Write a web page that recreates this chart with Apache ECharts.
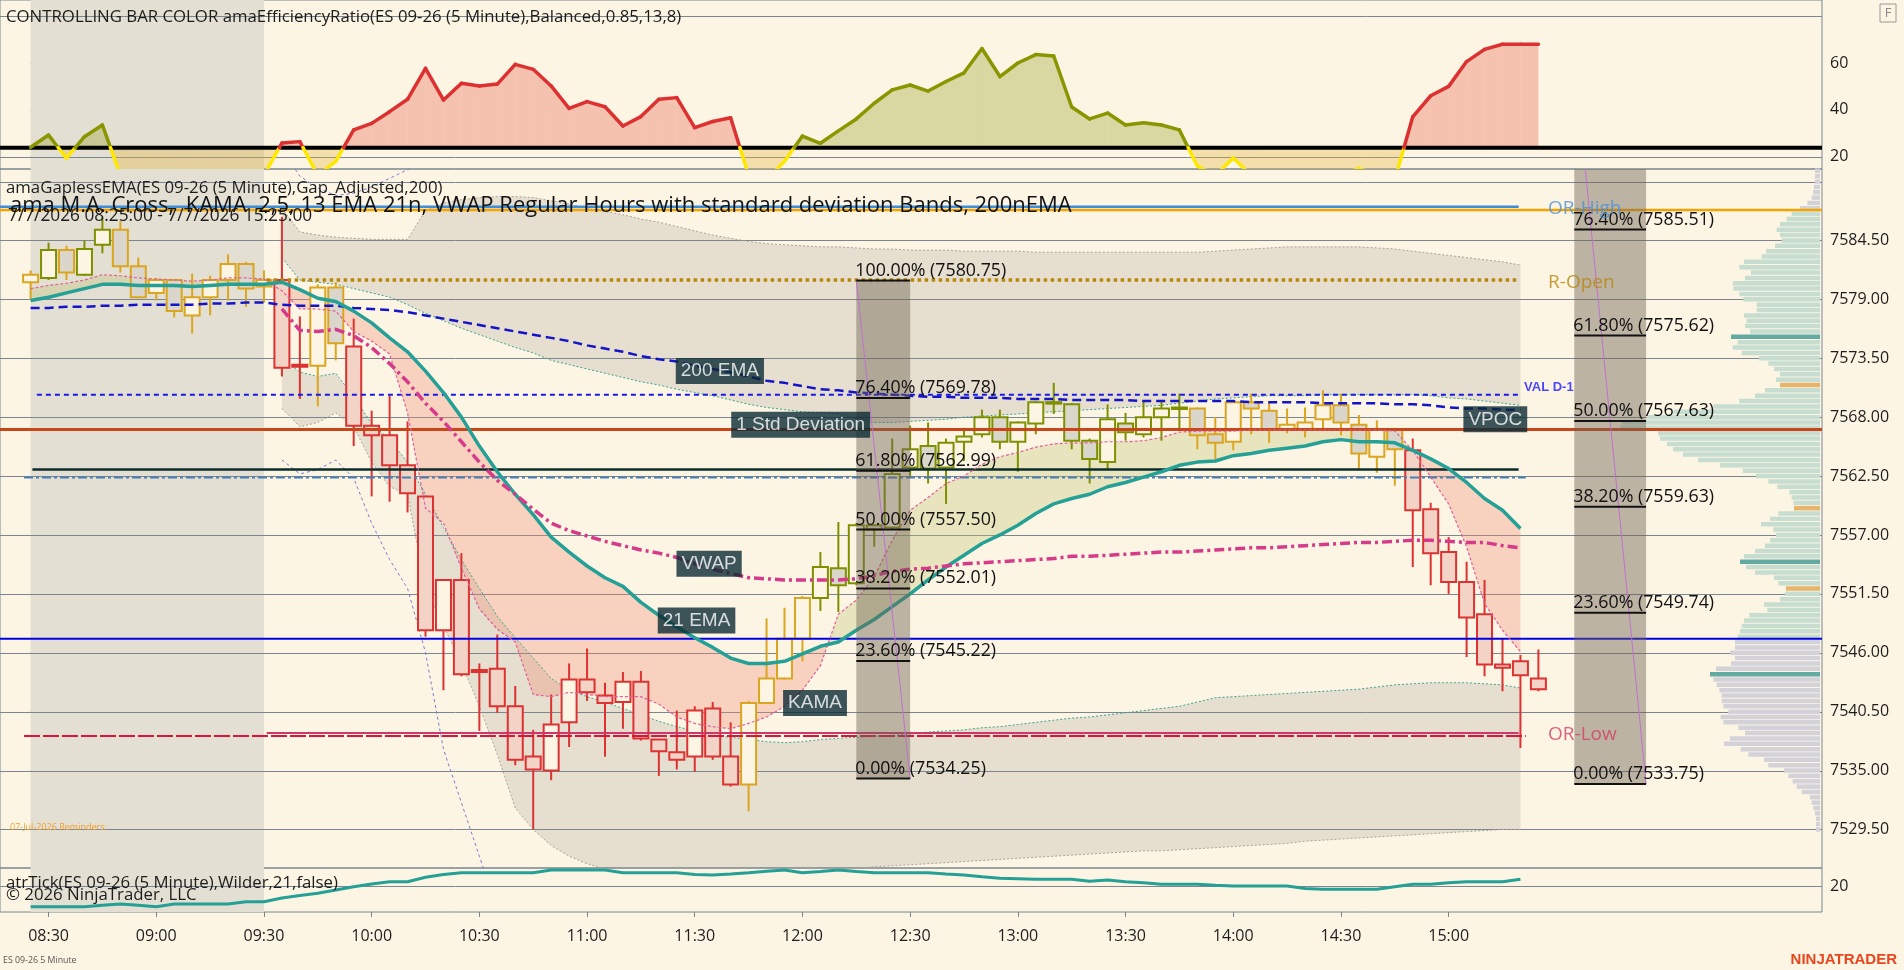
<!DOCTYPE html>
<html><head><meta charset="utf-8">
<script src="https://cdn.jsdelivr.net/npm/echarts@6/dist/echarts.min.js"></script>
<style>html,body{margin:0;padding:0;background:#fdf5e4;overflow:hidden}#chart{width:1904px;height:970px}</style>
</head><body><div id="chart"></div>
<script>
// ---------------- DATA ----------------
const firstBarTime = '08:25';
const timeLabels = ['08:30','09:00','09:30','10:00','10:30','11:00','11:30','12:00','12:30','13:00','13:30','14:00','14:30','15:00'];
const sessionBars = [0, 13];

const barOpen = [7580.6,7581.0,7583.6,7581.3,7584.1,7585.5,7582.1,7579.6,7580.8,7577.5,
7579.2,7580.8,7582.3,7580.2,7580.8,7572.9,7572.8,7580.1,7574.6,7567.2,
7566.3,7563.5,7560.6,7548.1,7552.8,7544.4,7544.5,7541.0,7536.3,7535.0,
7539.5,7543.5,7542.0,7541.4,7543.3,7537.9,7536.7,7536.3,7540.8,7536.3,
7533.7,7541.3,7543.6,7547.3,7551.1,7553.9,7552.5,7557.9,7557.7,7563.3,
7565.3,7563.3,7565.7,7566.4,7568.0,7565.7,7567.4,7569.4,7569.2,7565.8,
7563.8,7567.4,7566.4,7568.0,7568.8,7568.8,7566.4,7565.7,7569.4,7568.6,
7566.9,7566.9,7567.8,7569.1,7567.3,7564.3,7566.8,7564.9,7559.4,7555.4,
7552.6,7549.6,7544.9,7545.2,7543.6];
const barHigh = [7581.7,7584.3,7584.0,7584.5,7586.7,7586.3,7582.9,7581.0,7580.9,7581.4,
7581.2,7583.2,7582.5,7581.7,7586.7,7577.4,7580.4,7580.6,7577.2,7568.6,
7570.0,7567.6,7560.6,7552.8,7555.3,7545.0,7547.7,7542.9,7538.8,7542.1,
7545.0,7546.4,7543.2,7544.2,7544.3,7537.9,7540.6,7541.0,7541.4,7539.5,
7541.5,7549.2,7550.2,7551.3,7555.4,7558.2,7558.1,7558.0,7566.0,7567.2,
7567.5,7566.0,7567.0,7568.7,7568.7,7567.6,7569.5,7571.2,7569.3,7566.0,
7569.2,7568.4,7569.5,7569.6,7570.2,7568.9,7568.0,7569.5,7570.2,7569.4,
7568.8,7568.9,7570.5,7570.2,7568.2,7567.7,7567.0,7566.0,7560.0,7556.8,
7554.5,7552.8,7547.3,7545.8,7546.3];
const barLow = [7579.0,7580.8,7580.8,7581.2,7583.3,7581.5,7579.1,7578.9,7577.3,7575.8,
7577.5,7578.9,7578.3,7578.7,7571.8,7569.7,7569.0,7573.3,7565.3,7560.6,
7560.1,7559.1,7547.5,7542.5,7543.8,7538.7,7540.4,7535.5,7529.5,7534.1,
7537.2,7541.5,7536.3,7538.9,7537.8,7534.5,7535.1,7534.9,7536.0,7533.5,
7531.2,7541.2,7543.5,7545.2,7549.9,7549.8,7552.3,7555.9,7557.5,7562.4,
7561.8,7559.9,7563.9,7566.1,7565.0,7562.9,7566.4,7568.3,7565.0,7561.8,
7563.2,7565.8,7566.1,7565.8,7566.7,7565.0,7564.1,7564.9,7566.4,7565.6,
7566.5,7566.1,7566.8,7566.3,7563.2,7562.8,7561.6,7554.0,7552.3,7551.5,
7545.6,7543.8,7542.4,7537.1,7542.4];
const barClose = [7581.3,7583.6,7581.5,7583.7,7585.5,7582.1,7579.2,7580.8,7577.9,7579.2,
7580.8,7582.3,7580.0,7580.8,7572.6,7572.7,7580.1,7574.9,7567.2,7566.3,
7563.5,7560.9,7548.1,7552.8,7544.0,7544.2,7541.0,7536.0,7535.1,7539.3,
7543.5,7542.3,7541.3,7543.3,7538.0,7536.8,7536.0,7540.6,7536.3,7533.7,
7541.3,7543.6,7547.3,7551.1,7554.0,7552.3,7557.9,7557.5,7562.7,7565.0,
7563.2,7565.6,7566.2,7568.0,7565.7,7567.5,7569.4,7569.3,7565.8,7564.1,
7567.8,7566.6,7568.0,7568.8,7568.9,7566.3,7565.6,7569.4,7568.8,7566.8,
7567.3,7567.5,7569.1,7567.5,7564.6,7566.8,7565.0,7559.3,7555.3,7552.6,
7549.3,7544.9,7544.6,7543.9,7542.6];
// bar colour state per bar: o = olive, g = gold, r = red
const barState = ['gogoo','ggggggggg','rr','gg','rrrrrrrrrrrrrrrrrrrrrr','gggg','ooooooooooooooooooooo','gggggggggggg','rrrrrrrr'].join('');

const ema21 = [7578.9,7579.2,7579.6,7580.0,7580.4,7580.4,7580.3,7580.3,7580.3,7580.2,
7580.3,7580.4,7580.4,7580.4,7580.6,7579.9,7579.1,7578.8,7577.9,7576.8,
7575.4,7574.1,7572.3,7570.3,7568.0,7565.3,7562.9,7560.8,7558.9,7556.8,
7555.4,7554.1,7553.0,7552.2,7550.7,7549.5,7548.4,7547.4,7546.5,7545.5,
7545.0,7545.0,7545.2,7545.9,7546.6,7547.0,7548.1,7549.1,7550.3,7551.5,
7552.8,7554.0,7555.1,7556.2,7557.0,7557.9,7559.0,7559.9,7560.4,7560.8,
7561.5,7561.9,7562.4,7562.9,7563.5,7563.8,7563.9,7564.4,7564.6,7564.9,
7565.1,7565.3,7565.7,7565.9,7565.7,7565.7,7565.6,7564.9,7564.1,7563.2,
7561.9,7560.4,7559.3,7557.6];
const kama = [7580.0,7580.3,7580.5,7580.8,7581.3,7581.2,7581.0,7580.9,7580.8,7580.7,
7580.8,7581.0,7581.0,7580.9,7579.8,7578.1,7578.1,7577.9,7576.0,7575.1,
7573.9,7568.4,7559.5,7558.1,7553.9,7550.1,7548.2,7547.0,7542.1,7541.9,
7542.3,7542.1,7541.9,7541.9,7541.9,7541.2,7540.0,7539.4,7539.1,7538.9,
7539.4,7540.0,7541.0,7542.5,7544.8,7549.6,7550.9,7553.1,7556.5,7559.3,
7560.5,7561.8,7562.5,7563.6,7564.3,7564.7,7565.2,7565.5,7565.6,7565.6,
7565.7,7565.7,7565.8,7566.1,7566.6,7566.7,7566.7,7566.7,7566.8,7566.8,
7566.8,7566.8,7566.8,7566.8,7566.8,7566.8,7566.7,7564.9,7562.4,7559.9,
7555.9,7550.6,7548.1,7546.1];
const ema200 = [7578.2,7578.2,7578.3,7578.3,7578.4,7578.4,7578.5,7578.5,7578.5,7578.5,
7578.6,7578.6,7578.7,7578.7,7578.5,7578.4,7578.4,7578.4,7578.2,7578.1,
7578.0,7577.8,7577.5,7577.2,7576.9,7576.6,7576.3,7576.0,7575.7,7575.4,
7575.1,7574.7,7574.4,7574.1,7573.7,7573.4,7573.2,7572.8,7572.5,7572.2,
7571.8,7571.4,7571.2,7570.9,7570.6,7570.5,7570.3,7570.2,7570.1,7570.0,
7569.9,7569.9,7569.8,7569.8,7569.8,7569.7,7569.7,7569.7,7569.6,7569.6,
7569.6,7569.6,7569.5,7569.5,7569.5,7569.5,7569.5,7569.5,7569.4,7569.4,
7569.4,7569.4,7569.3,7569.3,7569.3,7569.3,7569.2,7569.2,7569.1,7568.9,
7568.8,7568.8,7568.7,7568.7];

// VWAP and bands start at the 09:30 bar
const vwapStartBar = 14;
const vwap = [7578.1,7576.1,7576.0,7576.2,7575.6,7574.5,7573.0,7571.3,7569.3,7567.6,
7565.7,7563.8,7562.1,7560.8,7559.4,7558.1,7557.4,7556.9,7556.4,7556.0,
7555.6,7555.3,7554.9,7554.3,7553.8,7553.4,7553.0,7552.9,7552.8,7552.8,
7552.8,7552.8,7552.9,7553.2,7553.6,7553.8,7553.9,7554.1,7554.3,7554.4,
7554.5,7554.6,7554.7,7554.8,7555.0,7555.0,7555.1,7555.2,7555.3,7555.4,
7555.4,7555.5,7555.6,7555.7,7555.8,7555.8,7555.9,7556.0,7556.1,7556.2,
7556.3,7556.3,7556.4,7556.5,7556.5,7556.4,7556.3,7556.3,7556.0,7555.8];
const vwapAboveRanges = [[15.8, 17.2], [43.5, 77.6]];
const bandUpper3 = [7593.0,7590.5,7589.4,7588.7,7588.9,7589.5,7590.3,7591.1,7592.0];
const bandUpper2 = [7587.5,7585.3,7585.0,7584.8,7584.7,7584.6,7584.6,7584.6,7587.3,7588.0,
7588.3,7588.5,7588.6,7588.6,7588.5,7588.2,7587.9,7587.5,7587.2,7586.9,
7586.5,7586.2,7585.8,7585.4,7585.0,7584.7,7584.4,7584.2,7584.1,7584.0,
7583.9,7583.9,7583.8,7583.7,7583.7,7583.6,7583.6,7583.6,7583.5,7583.5,
7583.5,7583.5,7583.4,7583.4,7583.4,7583.4,7583.4,7583.4,7583.4,7583.4,
7583.4,7583.4,7583.5,7583.6,7583.7,7583.8,7583.9,7583.9,7583.9,7583.9,
7583.9,7583.8,7583.7,7583.5,7583.3,7583.1,7582.9,7582.7,7582.5,7582.2];
const bandUpper1 = [7582.9,7580.8,7580.6,7580.4,7580.0,7579.6,7579.2,7578.5,7577.7,7577.0,
7576.3,7575.7,7575.1,7574.5,7574.0,7573.3,7572.9,7572.5,7572.1,7571.7,
7571.3,7571.0,7570.6,7570.3,7570.0,7569.6,7569.2,7568.9,7568.7,7568.5,
7568.4,7568.3,7567.8,7567.5,7567.5,7567.6,7567.7,7567.8,7568.0,7568.1,
7568.2,7568.3,7568.4,7568.5,7568.6,7568.7,7568.8,7568.9,7569.0,7569.1,
7569.3,7569.5,7569.7,7569.8,7569.9,7570.0,7570.0,7570.0,7570.1,7570.1,
7570.1,7570.1,7570.1,7570.1,7570.0,7569.8,7569.7,7569.5,7569.3,7569.1];
const bandLower1 = [7573.5,7572.2,7571.8,7572.1,7569.9,7567.4,7565.9,7563.8,7560.8,7557.7,
7554.7,7552.0,7549.4,7547.4,7545.5,7543.6,7542.5,7541.9,7541.4,7540.8,
7540.2,7539.6,7539.1,7538.7,7538.3,7538.1,7537.9,7537.7,7537.6,7537.7,
7537.9,7538.0,7538.1,7538.2,7538.3,7538.4,7538.6,7538.7,7538.8,7539.0,
7539.1,7539.3,7539.5,7539.7,7539.9,7540.0,7540.2,7540.4,7540.6,7540.8,
7541.0,7541.4,7541.8,7541.9,7542.0,7542.1,7542.2,7542.3,7542.4,7542.5,
7542.6,7542.8,7543.0,7543.1,7543.2,7543.2,7543.2,7543.1,7543.0,7542.7];
const bandLower2 = [7568.8,7567.1,7567.5,7568.4,7567.1,7563.8,7561.5,7560.8,7552.0,7548.5,
7545.0,7541.0,7536.5,7531.5,7529.5,7528.0,7527.0,7526.3,7525.8,7525.6,
7525.5,7525.5,7525.4,7525.4,7525.4,7525.4,7525.5,7525.5,7525.6,7525.6,
7525.7,7525.8,7525.9,7526.0,7526.1,7526.2,7526.3,7526.4,7526.5,7526.6,
7526.7,7526.8,7526.9,7527.0,7527.1,7527.2,7527.3,7527.4,7527.5,7527.5,
7527.6,7527.7,7527.8,7527.9,7528.0,7528.1,7528.2,7528.4,7528.5,7528.6,
7528.7,7528.8,7528.9,7529.0,7529.1,7529.2,7529.3,7529.4,7529.5,7529.5];
const bandLower3 = [7564.0,7562.7,7563.1,7564.0,7562.3,7558.1,7554.7,7552.0,7546.0,7537.0,7532.0,7527.0,7522.0];

// Horizontal levels
const orHigh = 7587.65, orRangeLine = 7587.35, rOpen = 7580.80, valD1 = 7570.10, vpoc = 7566.85;
const priorLevelA = 7563.12, priorLevelB = 7562.36, blueLevel = 7547.30, orLow = 7538.23, orLowB = 7538.50;

// Fibonacci retracements
const fibLevels = [100, 76.4, 61.8, 50, 38.2, 23.6, 0];
const fibLeftPrices = [7580.75, 7569.78, 7562.99, 7557.50, 7552.01, 7545.22, 7534.25];
const fibLeftBars = [46, 49];
const fibRightPrices = [7601.51, 7585.51, 7575.62, 7567.63, 7559.63, 7549.74, 7533.75];
const fibRightBars = [86, 90];

// Efficiency ratio (top panel)
const erValues = [24.0,29.2,19.3,28.5,33.5,12.0,10.0,9.0,8.0,9.0,
10.0,11.0,11.0,12.0,25.8,26.4,12.0,18.0,31.4,34.2,
39.2,44.5,57.7,44.2,51.3,50.2,51.0,59.4,57.3,50.2,
40.6,43.5,41.3,33.1,37.1,44.5,45.2,32.4,35.0,36.6,
12.0,10.0,18.0,28.8,25.7,31.0,36.1,42.8,48.5,50.6,
48.0,52.1,55.8,66.2,54.2,60.0,63.6,63.0,41.2,36.1,
38.6,33.5,34.5,33.5,31.4,16.0,12.0,19.4,12.0,9.0,
8.0,9.0,10.0,12.0,15.0,12.0,10.0,37.0,46.0,50.0,
60.6,65.8,68.0,68.0,68.0];
const erTrend = ['ooyoo','yyyyyyyyy','rr','yy','rrrrrrrrrrrrrrrrrrrrrr','yyy','oooooooooooooooooooooo','yyyyyyyyyyyy','rrrrrrrr'].join('');
const erThreshold = 23.8;
const erTicks = [20, 40, 60];
const erGrid = [20, 80];

// ATR (bottom panel)
const atrValues = [14.83,14.83,14.83,14.83,15.2,15.5,15.2,14.83,15.5,15.5,
15.5,15.5,16.08,16.08,17.0,17.6,18.17,19.0,19.8,20.5,
21.08,21.08,22.17,22.9,23.33,23.33,23.33,23.33,23.33,24.0,
24.0,24.0,24.0,23.33,23.33,23.33,23.33,22.9,22.75,23.0,
23.33,23.7,24.0,23.33,23.6,24.0,23.6,23.33,23.33,23.33,
23.33,23.0,22.75,22.3,21.92,21.8,21.67,21.67,21.67,21.2,
21.5,21.08,20.8,20.42,20.42,20.42,20.2,20.0,20.0,20.0,
20.0,19.4,19.17,19.17,19.17,19.17,19.8,20.42,20.42,20.8,
21.08,21.08,21.08,21.67];
const atrTicks = [20];

// Price axis ticks
const priceTicks = [7590.00,7584.50,7579.00,7573.50,7568.00,7562.50,7557.00,7551.50,7546.00,7540.50,7535.00,7529.50];
const priceLabelTicks = [7584.50,7579.00,7573.50,7568.00,7562.50,7557.00,7551.50,7546.00,7540.50,7535.00,7529.50];

// Volume profile (0.5 pt rows, from top)
const profileTopPrice = 7591.0, profileStep = 0.5;
const profileVolume = [15,15,15,18,21,25,38,60,85,100,
120,130,120,115,135,162,175,228,242,207,
225,262,260,242,230,190,190,228,220,225,
210,267,247,262,235,183,155,138,120,132,
120,165,195,242,320,440,520,594,600,486,
480,459,441,411,366,300,232,192,155,128,
92,85,80,78,125,150,177,140,132,150,
165,195,228,240,222,195,138,125,102,105,
120,168,158,212,228,235,240,247,255,255,
270,255,267,312,330,320,310,302,295,295,
290,275,298,290,245,225,270,288,238,215,
168,155,108,95,82,70,55,30,25,20,
15,12,12,12];
const profileValueArea = [7547.5, 7587.0];
const profileHighlight = [7575.5, 7554.5, 7544.0];
const profileOrange = [7571.0, 7559.5, 7552.0];

// Annotations
const annoText = ['200 EMA','1 Std Deviation','VWAP','21 EMA','KAMA','VPOC'];
const annoBar = [38.4, 42.9, 37.8, 37.1, 43.7, 81.6];
const annoPrice = [7572.3, 7567.3, 7554.3, 7549.0, 7541.3, 7567.8];

// ---------------- LAYOUT / STYLE ----------------
const X_MIN = -1.705, X_MAX = 99.8;
const FONT = '"Open Sans","Noto Sans",sans-serif';
const GRIDC = '#7b868f';
const BG = '#fdf5e4';
const toMin = s => (+s.slice(0,2))*60 + (+s.slice(3));
const labelIdx = timeLabels.map(t => (toMin(t) - toMin(firstBarTime)) / 5);

const chart = echarts.init(document.getElementById('chart'));

function gridLines(g, values, z) {
  return {type:'custom', xAxisIndex:g, yAxisIndex:g, z, silent:true,
    data: values.map(v => [0, v]),
    renderItem(params, api) {
      const cs = params.coordSys;
      const y = Math.round(api.coord([0, api.value(1)])[1]) + 0.5;
      return {type:'line', shape:{x1:cs.x, y1:y, x2:cs.x+cs.width, y2:y}, style:{stroke:GRIDC, lineWidth:1}};
    }};
}
function sessionShade(g) {
  return {type:'custom', xAxisIndex:g, yAxisIndex:g, z:1, silent:true,
    data:[[sessionBars[0], sessionBars[1]]],
    renderItem(params, api) {
      const cs = params.coordSys;
      const x0 = api.coord([api.value(0), 0])[0], x1 = api.coord([api.value(1), 0])[0];
      return {type:'rect', shape:{x:x0, y:cs.y, width:x1-x0, height:cs.height}, style:{fill:'#e3dfd2'}};
    }};
}
function lineSer(vals, start, style, z, extra) {
  return Object.assign({type:'line', xAxisIndex:1, yAxisIndex:1, showSymbol:false, symbol:'none', silent:true, z,
    data: vals.map((v,i) => [i+start, v]), lineStyle: style}, extra || {});
}
function levelSer(price, x0, x1, style, z) {
  return {type:'line', xAxisIndex:1, yAxisIndex:1, showSymbol:false, symbol:'none', silent:true, z,
    data:[[x0, price],[x1, price]], lineStyle: style};
}

const COL = {o:'#7e9000', g:'#daa520', r:'#dc3232'};
const DOWNFILL = {o:'#d9d7c9', g:'#dad6cb', r:'#f3d3c6'};

const series = [];
series.push(sessionShade(0), sessionShade(1), sessionShade(2));
series.push(gridLines(0, erGrid, 2), gridLines(1, priceTicks, 3), gridLines(2, atrTicks, 2));

// VWAP band fills
series.push({type:'custom', xAxisIndex:1, yAxisIndex:1, z:2, silent:true, clip:true,
  data:[[vwapStartBar, 0],[vwapStartBar, 1]],
  renderItem(params, api) {
    const k = params.dataIndex;
    const a = k === 0 ? bandUpper2 : bandLower1, b = k === 0 ? bandUpper1 : bandLower2;
    const pts = [];
    a.forEach((v,i) => pts.push(api.coord([i+vwapStartBar, v])));
    for (let i = b.length-1; i >= 0; i--) pts.push(api.coord([i+vwapStartBar, b[i]]));
    return {type:'polygon', shape:{points:pts}, style:{fill:'rgba(140,132,118,0.2)'}};
  }});

// KAMA / EMA cloud
series.push({type:'custom', xAxisIndex:1, yAxisIndex:1, z:4, silent:true, clip:true,
  data:[[0, kama[0]]],
  renderItem(params, api) {
    const runs = [];
    let top = [], bot = [], sign = null;
    for (let i = 0; i < kama.length; i++) {
      const d = kama[i] - ema21[i];
      const s = d >= 0 ? 1 : -1;
      if (sign !== null && s !== sign) {
        const dp = kama[i-1] - ema21[i-1];
        const t = dp / (dp - d);
        const xc = i - 1 + t, yc = ema21[i-1] + (ema21[i] - ema21[i-1]) * t;
        top.push([xc, yc]); bot.push([xc, yc]);
        runs.push({sign, pts: top.concat(bot.reverse())});
        top = [[xc, yc]]; bot = [[xc, yc]];
      }
      sign = s;
      top.push([i, kama[i]]); bot.push([i, ema21[i]]);
    }
    runs.push({sign, pts: top.concat(bot.reverse())});
    return {type:'group', children: runs.map(r => ({type:'polygon',
      shape:{points: r.pts.map(p => api.coord(p))},
      style:{fill: r.sign > 0 ? 'rgba(190,195,110,0.33)' : 'rgba(240,140,115,0.33)'}}))};
  }});

// Volume profile
const inRange = (p, r) => p >= r[0] - 0.01 && p <= r[1] + 0.01;
const hasP = (arr, p) => arr.some(v => Math.abs(v - p) < 0.01);
series.push({type:'custom', xAxisIndex:3, yAxisIndex:3, z:4, silent:true,
  data: profileVolume.map((w,i) => [w, profileTopPrice - i*profileStep]),
  renderItem(params, api) {
    const w = api.value(0), p = api.value(1);
    const a = api.coord([0, p + 0.21]), b = api.coord([w, p - 0.21]);
    let fill = inRange(p, profileValueArea) ? '#c6ddd0' : '#d2d2d8';
    if (hasP(profileHighlight, p)) fill = '#63aaa2';
    if (hasP(profileOrange, p)) fill = '#e6b46a';
    return {type:'rect', shape:{x:b[0], y:a[1], width:a[0]-b[0], height:b[1]-a[1]}, style:{fill}};
  }});

// band lines
series.push(lineSer(bandUpper3, vwapStartBar, {color:'#7a7ad0', width:1, type:[3,3]}, 5));
series.push(lineSer(bandUpper2, vwapStartBar, {color:'#a8a49c', width:1, type:[2,2]}, 5));
series.push(lineSer(bandUpper1, vwapStartBar, {color:'#3aa595', width:1, type:[2,2]}, 5));
series.push(lineSer(bandLower1, vwapStartBar, {color:'#3aa595', width:1, type:[2,2]}, 5));
series.push(lineSer(bandLower2, vwapStartBar, {color:'#a8a49c', width:1, type:[2,2]}, 5));
series.push(lineSer(bandLower3, vwapStartBar, {color:'#7a7ad0', width:1, type:[3,3]}, 5));

// candles
series.push({type:'custom', xAxisIndex:1, yAxisIndex:1, z:7, silent:true, clip:true,
  data: barClose.map((c,i) => [i, c]),
  renderItem(params, api) {
    const i = params.dataIndex;
    const o = barOpen[i], h = barHigh[i], l = barLow[i], c = barClose[i];
    const code = barState[i];
    const stroke = COL[code];
    const pH = api.coord([i, h]), pL = api.coord([i, l]);
    const pT = api.coord([i, Math.max(o,c)]), pB = api.coord([i, Math.min(o,c)]);
    const w = 15, x = pH[0];
    return {type:'group', children:[
      {type:'line', shape:{x1:x, y1:pH[1], x2:x, y2:pL[1]}, style:{stroke, lineWidth:2}},
      {type:'rect', shape:{x:x-w/2, y:pT[1], width:w, height:Math.max(1.5, pB[1]-pT[1])},
        style:{fill: c >= o ? BG : DOWNFILL[code], stroke, lineWidth:2}}
    ]};
  }});

// levels
series.push(levelSer(orRangeLine, X_MIN, X_MAX, {color:'#f5a300', width:2.5}, 8));
series.push(levelSer(orHigh, X_MIN, 82.9, {color:'#3c8ddc', width:2.5}, 8));
series.push(levelSer(rOpen, 13.15, 82.9, {color:'#b8860b', width:3.5, type:[3.5,3.5]}, 8));
series.push(levelSer(valD1, 0.35, 82.9, {color:'#1a1ae6', width:2, type:[5,4]}, 8));
series.push(levelSer(vpoc, X_MIN, X_MAX, {color:'#c8461a', width:3}, 8));
series.push(levelSer(priorLevelA, 0.1, 82.9, {color:'#0c2c2c', width:2.5}, 8));
series.push(levelSer(priorLevelB, -0.37, 83.3, {color:'#4a7fb5', width:2, type:[9,3,3,3]}, 8));
series.push(levelSer(blueLevel, X_MIN, X_MAX, {color:'#0000e6', width:2}, 8));
series.push(levelSer(orLow, -0.37, 83.3, {color:'#dc143c', width:2, type:[16,3]}, 8));
series.push(levelSer(orLowB, 13.15, 82.9, {color:'#c83a6a', width:2}, 8));

// indicator lines
series.push(lineSer(kama, 0, {color:'#e0609a', width:1.2, type:[3,2]}, 9));
series.push(lineSer(ema200, 0, {color:'#1414c8', width:2.5, type:[9,5]}, 9));
series.push(lineSer(ema21, 0, {color:'#24a096', width:3.5}, 9));
const vwapIndex = series.length;
series.push(lineSer(vwap, vwapStartBar, {color:'#d63a8a', width:3.5, type:[10,4,3,4]}, 9));

// Fibonacci
series.push({type:'custom', xAxisIndex:1, yAxisIndex:1, z:10, silent:true, clip:true,
  data:[[fibLeftBars[0], fibLeftPrices[0]],[fibRightBars[0], fibRightPrices[0]]],
  renderItem(params, api) {
    const k = params.dataIndex;
    const bars = k === 0 ? fibLeftBars : fibRightBars;
    const prices = k === 0 ? fibLeftPrices : fibRightPrices;
    const tl = api.coord([bars[0], prices[0]]);
    const br = api.coord([bars[1], prices[prices.length-1]]);
    const ch = [
      {type:'rect', shape:{x:tl[0], y:tl[1], width:br[0]-tl[0], height:br[1]-tl[1]}, style:{fill:'rgba(110,100,85,0.45)'}},
      {type:'line', shape:{x1:tl[0], y1:tl[1], x2:br[0], y2:br[1]}, style:{stroke:'#c070d0', lineWidth:1}}
    ];
    prices.forEach((p, j) => {
      const y = api.coord([bars[0], p])[1];
      ch.push({type:'line', shape:{x1:tl[0], y1:y, x2:br[0], y2:y}, style:{stroke:'#111', lineWidth:2}});
      ch.push({type:'text', x:tl[0]-1, y:y-1, style:{text: fibLevels[j].toFixed(2) + '% (' + p.toFixed(2) + ')',
        fill:'#111', font:'17.8px ' + FONT, align:'left', verticalAlign:'bottom'}});
    });
    return {type:'group', children: ch};
  }});

// annotation boxes
series.push({type:'scatter', xAxisIndex:1, yAxisIndex:1, z:12, silent:true, symbolSize:1,
  itemStyle:{color:'rgba(0,0,0,0)'},
  data: annoText.map((t,i) => ({name:t, value:[annoBar[i], annoPrice[i]]})),
  label:{show:true, position:'inside', formatter:'{b}', color:'#ffffff', backgroundColor:'#0b2a33',
    padding:[4,5,3,5], fontSize:19, fontFamily:'"Liberation Sans",Arial,sans-serif'}});

// level labels
const lvlLabels = [
  {name:'OR-High', value:[84.54, orHigh - 0.2], color:'#4a90d9', size:19, weight:'normal'},
  {name:'R-Open', value:[84.54, rOpen - 0.2], color:'#b8860b', size:19, weight:'normal'},
  {name:'OR-Low', value:[84.54, orLow + 0.1], color:'#d23c64', size:19, weight:'normal'},
  {name:'VAL D-1', value:[83.2, valD1 + 0.7], color:'#1a1aff', size:13, weight:'bold'}
];
series.push({type:'scatter', xAxisIndex:1, yAxisIndex:1, z:12, silent:true, symbolSize:1,
  itemStyle:{color:'rgba(0,0,0,0)'},
  data: lvlLabels.map(d => ({name:d.name, value:d.value,
    label:{show:true, position:'inside', align:'left', formatter:'{b}', color:d.color, fontSize:d.size, fontWeight:d.weight,
      fontFamily: d.weight === 'bold' ? '"Liberation Sans",Arial,sans-serif' : FONT}}))});

// ER panel
const erFill = {o:'rgba(150,160,40,0.35)', r:'rgba(230,100,80,0.35)', y:'rgba(225,180,60,0.35)'};
const erLine = {o:'#8a9600', r:'#dd3030', y:'#ffe800'};
function erRender(mode) {
  return function(params, api) {
    const i = params.dataIndex;
    const v0 = erValues[i], v1 = erValues[i+1];
    if (v1 === undefined) return null;
    const T = erThreshold;
    const ch = [];
    const seg = (xa, va, xb, vb) => {
      const above = (va + vb) / 2 >= T;
      const code = above ? (erTrend[i+1] !== 'y' ? erTrend[i+1] : erTrend[i]) : 'y';
      const pa = api.coord([xa, va]), pb = api.coord([xb, vb]);
      if (mode === 'fill') {
        const ta = api.coord([xa, T]), tb = api.coord([xb, T]);
        ch.push({type:'polygon', shape:{points:[pa, pb, tb, ta]}, style:{fill: erFill[code]}});
      } else {
        ch.push({type:'line', shape:{x1:pa[0], y1:pa[1], x2:pb[0], y2:pb[1]}, style:{stroke: erLine[code], lineWidth:3.5, lineCap:'round'}});
      }
    };
    if ((v0 - T) * (v1 - T) < 0) {
      const xc = i + (T - v0) / (v1 - v0);
      seg(i, v0, xc, T); seg(xc, T, i+1, v1);
    } else seg(i, v0, i+1, v1);
    return {type:'group', children: ch};
  };
}
series.push({type:'custom', xAxisIndex:0, yAxisIndex:0, z:3, silent:true, clip:true,
  data: erValues.map((v,i) => [i, v]), renderItem: erRender('fill')});
series.push({type:'line', xAxisIndex:0, yAxisIndex:0, z:4, silent:true, showSymbol:false, symbol:'none',
  data:[[X_MIN, erThreshold],[X_MAX, erThreshold]], lineStyle:{color:'#000', width:4}});
series.push({type:'custom', xAxisIndex:0, yAxisIndex:0, z:5, silent:true, clip:true,
  data: erValues.map((v,i) => [i, v]), renderItem: erRender('line')});

// ATR
series.push({type:'line', xAxisIndex:2, yAxisIndex:2, z:4, silent:true, showSymbol:false, symbol:'none',
  data: atrValues.map((v,i) => [i, v]), lineStyle:{color:'#24a096', width:3}});

const vwapPieces = [];
let prev = -Infinity;
vwapAboveRanges.forEach(r => {
  vwapPieces.push({gte: prev, lt: r[0], color:'#d63a8a'});
  vwapPieces.push({gte: r[0], lt: r[1], color:'#7272c8'});
  prev = r[1];
});
vwapPieces.push({gte: prev, color:'#d63a8a'});

const axisLbl = {fontSize:16, color:'#1e1e1e', fontFamily:FONT};
function xAx(g, show) {
  return {type:'value', gridIndex:g, min:X_MIN, max:X_MAX, show,
    axisLine:{show:false}, splitLine:{show:false},
    axisTick:{show, customValues: labelIdx, length:5, lineStyle:{color:GRIDC}},
    axisLabel: Object.assign({show, customValues: labelIdx, margin:16,
      formatter: v => timeLabels[labelIdx.indexOf(Math.round(v))] || ''}, axisLbl)};
}
function yAx(g, min, max, ticks, labels, fmt) {
  return {type:'value', gridIndex:g, position:'right', min, max,
    axisLine:{show:false}, splitLine:{show:false},
    axisTick:{show:true, customValues: ticks, length:6, lineStyle:{color:GRIDC}},
    axisLabel: Object.assign({customValues: labels, margin:8, formatter: fmt}, axisLbl)};
}

const CAP = '16.8px ' + FONT;
const gridStyle = {show:true, borderColor:GRIDC, borderWidth:1, backgroundColor:'transparent'};
const option = {
  animation:false,
  backgroundColor: BG,
  grid:[
    Object.assign({left:0, top:0, width:1822, height:169}, gridStyle),
    Object.assign({left:0, top:169, width:1822, height:699}, gridStyle),
    Object.assign({left:0, top:868, width:1822, height:44}, gridStyle),
    {left:1620, top:169, width:200, height:699, show:false}
  ],
  xAxis:[xAx(0,false), xAx(1,false), xAx(2,true),
    {type:'value', gridIndex:3, min:0, max:600, inverse:true, show:false}],
  yAxis:[
    yAx(0, 14.70, 86.92, [20,40,60,80], erTicks, v => String(v)),
    yAx(1, 7525.90, 7591.17, priceTicks, priceLabelTicks, v => v.toFixed(2)),
    yAx(2, 13.5, 24.5, atrTicks, atrTicks, v => String(v)),
    {type:'value', gridIndex:3, min:7525.90, max:7591.17, show:false}
  ],
  visualMap:[{type:'piecewise', show:false, seriesIndex: vwapIndex, dimension:0, pieces: vwapPieces}],
  graphic:[
    {type:'text', x:6, y:17, z:100, style:{text:'CONTROLLING BAR COLOR amaEfficiencyRatio(ES 09-26 (5 Minute),Balanced,0.85,13,8)', font:CAP, fill:'#1c1c1c', verticalAlign:'middle'}},
    {type:'text', x:6, y:188, z:100, style:{text:'amaGaplessEMA(ES 09-26 (5 Minute),Gap_Adjusted,200)', font:CAP, fill:'#1c1c1c', verticalAlign:'middle'}},
    {type:'text', x:8, y:216, z:100, style:{text:'7/7/2026 08:25:00 - 7/7/2026 15:25:00', font:'17.3px '+FONT, fill:'#1c1c1c', verticalAlign:'middle'}},
    {type:'text', x:10, y:206, z:101, style:{text:'ama M.A. Cross,  KAMA  2,5, 13 EMA 21n, VWAP Regular Hours with standard deviation Bands, 200nEMA', font:'22px '+FONT, fill:'#111', verticalAlign:'middle'}},
    {type:'text', x:10, y:827, z:100, style:{text:'07-Jul-2026 Reminders:', font:'9px '+FONT, fill:'#f0a030', verticalAlign:'middle'}},
    {type:'text', x:6, y:883, z:100, style:{text:'atrTick(ES 09-26 (5 Minute),Wilder,21,false)', font:CAP, fill:'#1c1c1c', verticalAlign:'middle'}},
    {type:'text', x:6, y:895, z:100, style:{text:'\u00a9 2026 NinjaTrader, LLC', font:CAP, fill:'#1c1c1c', verticalAlign:'middle'}},
    {type:'text', x:3, y:960, z:100, style:{text:'ES 09-26 5 Minute', font:'8.8px '+FONT, fill:'#555', verticalAlign:'middle'}},
    {type:'text', x:1897, y:960, z:100, style:{text:'NINJATRADER', font:'bold 15px "Liberation Sans",Arial,sans-serif', fill:'#e8461e', align:'right', verticalAlign:'middle'}},
    {type:'rect', x:1880, y:4, z:100, shape:{width:16, height:18}, style:{fill:'transparent', stroke:'#9a9a9a', lineWidth:1}},
    {type:'text', x:1888, y:13, z:101, style:{text:'F', font:'13px '+FONT, fill:'#8a8a8a', align:'center', verticalAlign:'middle'}}
  ],
  series
};
chart.setOption(option);
</script></body></html>
